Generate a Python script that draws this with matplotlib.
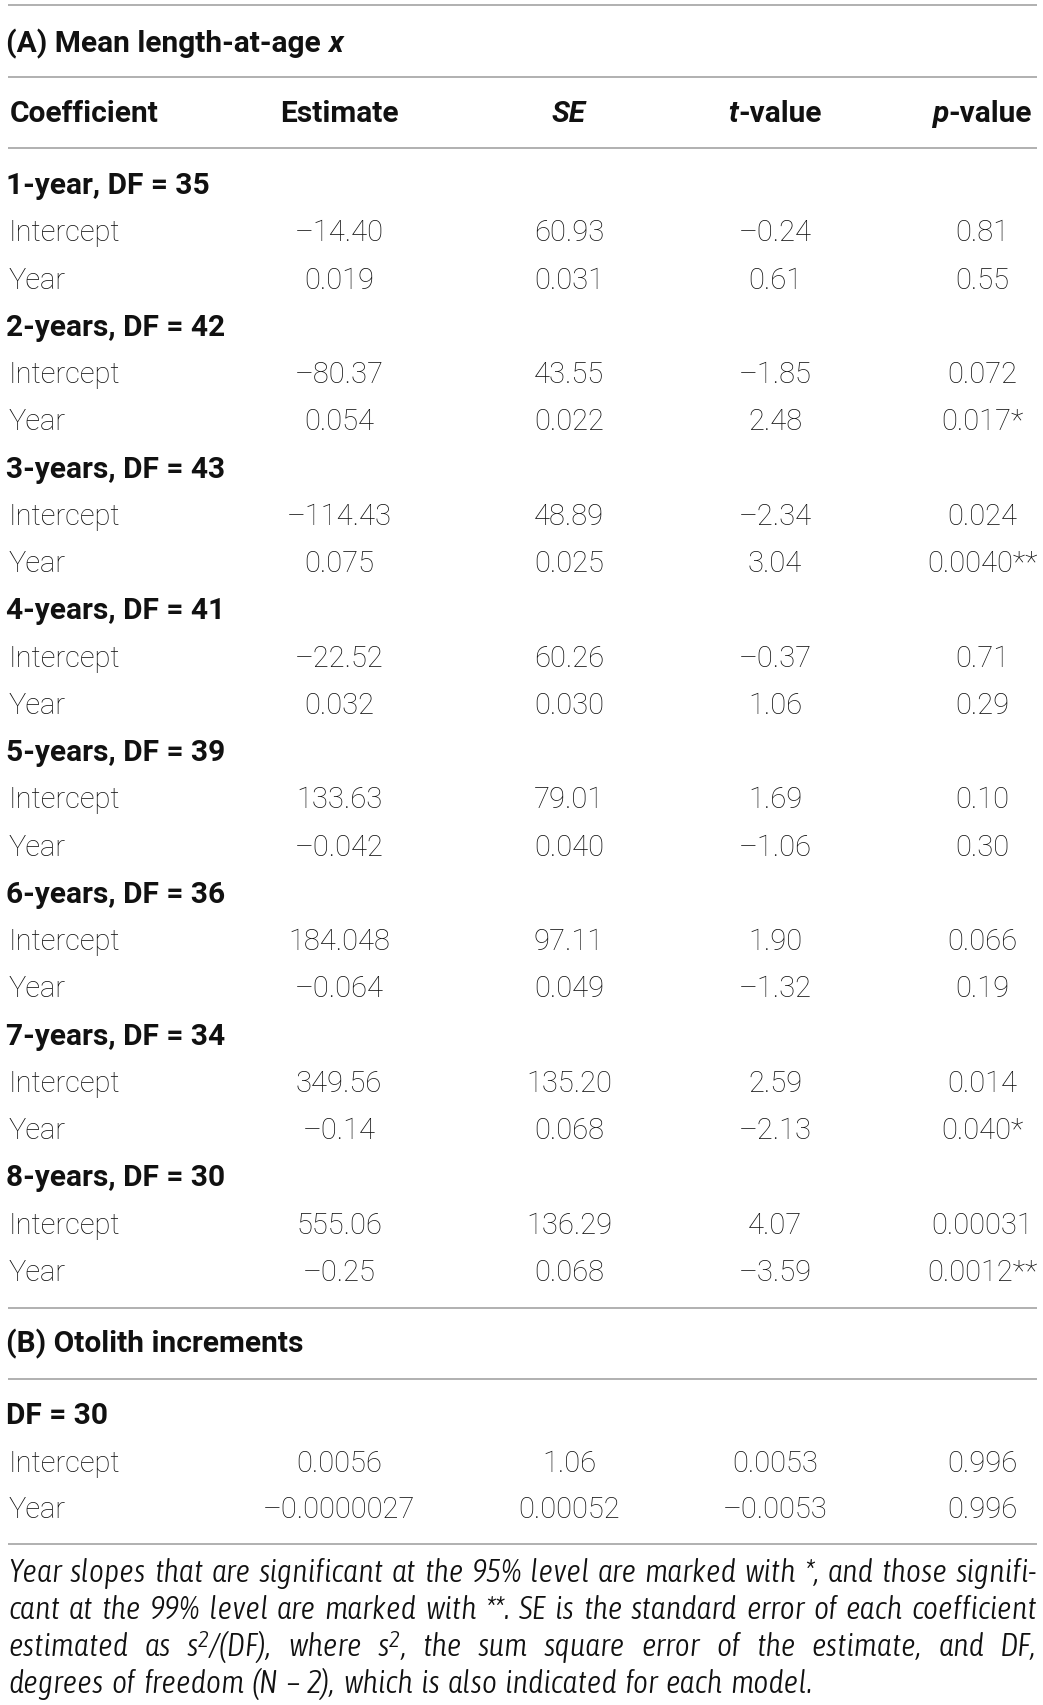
import numpy as np
import matplotlib
matplotlib.use("Agg")
import matplotlib.pyplot as plt
import matplotlib.font_manager as fm

# ---- table values ----
groups = ["1-year, DF = 35", "2-years, DF = 42", "3-years, DF = 43", "4-years, DF = 41",
          "5-years, DF = 39", "6-years, DF = 36", "7-years, DF = 34", "8-years, DF = 30"]
int_est = ["–14.40", "–80.37", "–114.43", "–22.52", "133.63", "184.048", "349.56", "555.06"]
int_se = ["60.93", "43.55", "48.89", "60.26", "79.01", "97.11", "135.20", "136.29"]
int_t = ["–0.24", "–1.85", "–2.34", "–0.37", "1.69", "1.90", "2.59", "4.07"]
int_p = ["0.81", "0.072", "0.024", "0.71", "0.10", "0.066", "0.014", "0.00031"]
yr_est = ["0.019", "0.054", "0.075", "0.032", "–0.042", "–0.064", "–0.14", "–0.25"]
yr_se = ["0.031", "0.022", "0.025", "0.030", "0.040", "0.049", "0.068", "0.068"]
yr_t = ["0.61", "2.48", "3.04", "1.06", "–1.06", "–1.32", "–2.13", "–3.59"]
yr_p = ["0.55", "0.017*", "0.0040**", "0.29", "0.30", "0.19", "0.040*", "0.0012**"]

b_group = "DF = 30"
b_int = ["0.0056", "1.06", "0.0053", "0.996"]
b_yr = ["–0.0000027", "0.00052", "–0.0053", "0.996"]

footnote = [
    "Year slopes that are significant at the 95% level are marked with *, and those signifi-",
    "cant at the 99% level are marked with **. SE is the standard error of each coefficient",
    "estimated as s^2/(DF), where s^2, the sum square error of the estimate, and DF,",
    "degrees of freedom (N – 2), which is also indicated for each model.",
]

W, H = 1043, 1705
fig = plt.figure(figsize=(W / 100, H / 100), dpi=100)
ax = fig.add_axes([0, 0, 1, 1])
ax.set_xlim(0, W)
ax.set_ylim(H, 0)
ax.axis("off")
renderer = fig.canvas.get_renderer()

FONT = "Roboto"
INK = "#111111"
FS = 21      # body
FSB = 21.5   # bold headings
col_x = [339, 569, 775, 982]


# look for a narrow italic face for the footnote
def find_narrow():
    best = None
    for f in fm.fontManager.ttflist:
        narrow = ("Narrow" in f.name or "Condensed" in f.name
                  or str(f.stretch) in ("condensed", "semi-condensed", "extra-condensed")
                  or (isinstance(f.stretch, int) and f.stretch < 500))
        if narrow and f.style in ("italic", "oblique"):
            w = f.weight if isinstance(f.weight, int) else 400
            score = abs(w - 300)
            if best is None or score < best[0]:
                best = (score, f.fname)
    return best[1] if best else None


narrow_file = find_narrow()


def note_props(fs):
    if narrow_file:
        return fm.FontProperties(fname=narrow_file, size=fs)
    return fm.FontProperties(family="Roboto", weight="light", style="italic", size=fs)


def rule(y):
    ax.plot([8, 1037], [y, y], color="#a3a3a3", lw=1.2, solid_capstyle="butt")


def cell(x, y, s, ha="center", weight="light", style="normal"):
    return ax.text(x, y, s, ha=ha, va="baseline", family=FONT,
                   fontsize=FSB if weight == "bold" else FS,
                   weight=weight, style=style, color=INK)


def mixed(x, y, pieces, ha="left"):
    # pieces: (text, style); bold run of mixed upright/italic pieces
    ts = [ax.text(0, y, s, va="baseline", fontsize=FSB, family=FONT, weight="bold",
                  style=st, color=INK) for s, st in pieces]
    ws = [t.get_window_extent(renderer).width for t in ts]
    x0 = x - sum(ws) / 2 if ha == "center" else x
    for t, w in zip(ts, ws):
        t.set_x(x0)
        x0 += w


# ---- section A ----
rule(5)
mixed(6, 52, [("(A) Mean length-at-age ", "normal"), ("x", "italic")])
rule(77)
cell(10, 122, "Coefficient", ha="left", weight="bold")
cell(col_x[0], 122, "Estimate", weight="bold")
cell(col_x[1], 122, "SE", weight="bold", style="italic")
mixed(col_x[2], 122, [("t", "italic"), ("-value", "normal")], ha="center")
mixed(col_x[3], 122, [("p", "italic"), ("-value", "normal")], ha="center")
rule(148)

pitch = 47.26
for i, g in enumerate(groups):
    y0 = 194 + 3 * i * pitch
    cell(6, y0, g, ha="left", weight="bold")
    cell(9, y0 + pitch, "Intercept", ha="left")
    cell(9, y0 + 2 * pitch, "Year", ha="left")
    for cx, v in zip(col_x, [int_est[i], int_se[i], int_t[i], int_p[i]]):
        cell(cx, y0 + pitch, v)
    for cx, v in zip(col_x, [yr_est[i], yr_se[i], yr_t[i], yr_p[i]]):
        cell(cx, y0 + 2 * pitch, v)
rule(1308)

# ---- section B ----
cell(6, 1352, "(B) Otolith increments", ha="left", weight="bold")
rule(1379)
cell(6, 1424, b_group, ha="left", weight="bold")
cell(9, 1472, "Intercept", ha="left")
cell(9, 1518, "Year", ha="left")
for cx, v in zip(col_x, b_int):
    cell(cx, 1472, v)
for cx, v in zip(col_x, b_yr):
    cell(cx, 1518, v)
rule(1544)


# ---- footnote, justified italic ----
def word_pieces(w):
    parts = w.split("^")
    out = [(parts[0], False)]
    for p in parts[1:]:
        out.append((p[0], True))
        if p[1:]:
            out.append((p[1:], False))
    return out


def note_line(line, y, fs, justify, draw=True):
    items = []
    for w in line.split(" "):
        ts = []
        for s, sup in word_pieces(w):
            t = ax.text(0, y - (9 if sup else 0), s, va="baseline",
                        fontproperties=note_props(fs * (0.72 if sup else 1)), color=INK)
            ts.append((t, t.get_window_extent(renderer).width))
        items.append(ts)
    widths = [sum(w for _, w in ts) for ts in items]
    space = fs * 100 / 72 * 0.24
    natural = sum(widths) + space * (len(items) - 1)
    if not draw:
        for ts in items:
            for t, _ in ts:
                t.remove()
        return natural
    if justify and len(items) > 1:
        space = (1037 - 8 - sum(widths)) / (len(items) - 1)
    x = 8
    for ts, wsum in zip(items, widths):
        xx = x
        for t, w in ts:
            t.set_x(xx)
            xx += w
        x += wsum + space
    return natural


# size the footnote so the tightest line just fills the column
base_fs = 20
widest = max(note_line(l, 0, base_fs, True, draw=False) for l in footnote[:-1])
note_fs = base_fs * 1025 / widest

for k, (line, yb) in enumerate(zip(footnote, [1582, 1619, 1656, 1693])):
    note_line(line, yb, note_fs, justify=(k < len(footnote) - 1))

fig.savefig("out.png", dpi=100)
